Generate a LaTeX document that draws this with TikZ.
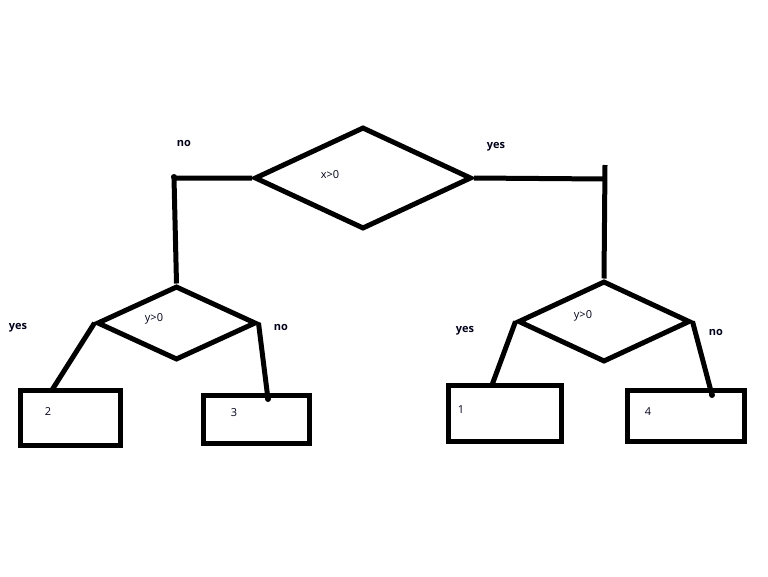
\documentclass[tikz,border=0pt]{standalone}
\usepackage{fontspec}
\setmainfont{Open Sans}
\usetikzlibrary{shapes.geometric}
\begin{document}
\begin{tikzpicture}[x=1pt,y=-1pt,
  every node/.style={font=\fontsize{11}{13}\selectfont, text=black!90!blue},
  dec/.style={diamond, draw=black, line width=5pt, inner sep=0pt, aspect=2},
  leaf/.style={rectangle, draw=black, line width=5pt, inner sep=0pt},
  lab/.style={font=\bfseries\fontsize{11}{13}\selectfont},
  conn/.style={draw=black, line width=5pt}]
\useasboundingbox (0,0) rectangle (768,576);
% decisions
\node[dec, minimum width=217pt, minimum height=102pt] (top) at (363,178) {};
\node[dec, minimum width=159pt, minimum height=74pt] (ld) at (176.5,323) {};
\node[dec, minimum width=172pt, minimum height=81pt] (rd) at (604,321.5) {};
\node (tx) at (330,175) {x>0};
\node (lx) at (154,319) {y>0};
\node (rx) at (583,316) {y>0};
% leaves
\node[leaf, minimum width=100pt, minimum height=55pt] (b2) at (70,417.5) {};
\node[leaf, minimum width=106pt, minimum height=48pt] (b3) at (256,419) {};
\node[leaf, minimum width=113pt, minimum height=56pt] (b1) at (504.5,413) {};
\node[leaf, minimum width=117pt, minimum height=51pt] (b4) at (685.5,415.5) {};
\node (t2) at (48,412) {2};
\node (t3) at (234,413) {3};
\node (t1) at (461,410) {1};
\node (t4) at (648,412) {4};
% labels
\node[lab] (lno) at (184,143) {no};
\node[lab] (lyes) at (496,147) {yes};
\node[lab] (l2yes) at (18,328) {yes};
\node[lab] (l2no) at (281,327) {no};
\node[lab] (r2yes) at (465,331) {yes};
\node[lab] (r2no) at (716,332) {no};
% connector corners
\coordinate (cl) at (174,178);
\coordinate (cr) at (605,179);
\coordinate (crt) at (605,165);
\coordinate (e2) at (52,390);
\coordinate (e3) at (268,399);
\coordinate (e1) at (492,385);
\coordinate (e4) at (712,395);
% connectors
\draw[conn] (top.west) -- (cl) -- (ld.north);
\fill (cl) ++(0,-1) circle (3pt);
\draw[conn] (top.east) -- (cr);
\draw[conn] (crt) -- (rd.north);
\draw[conn] (ld.west) -- (e2);
\draw[conn] (ld.east) -- (e3);
\fill (e3) circle (3pt);
\draw[conn] (rd.west) -- (e1);
\draw[conn] (rd.east) -- (e4);
\fill (e4) circle (3pt);
\end{tikzpicture}
\end{document}
